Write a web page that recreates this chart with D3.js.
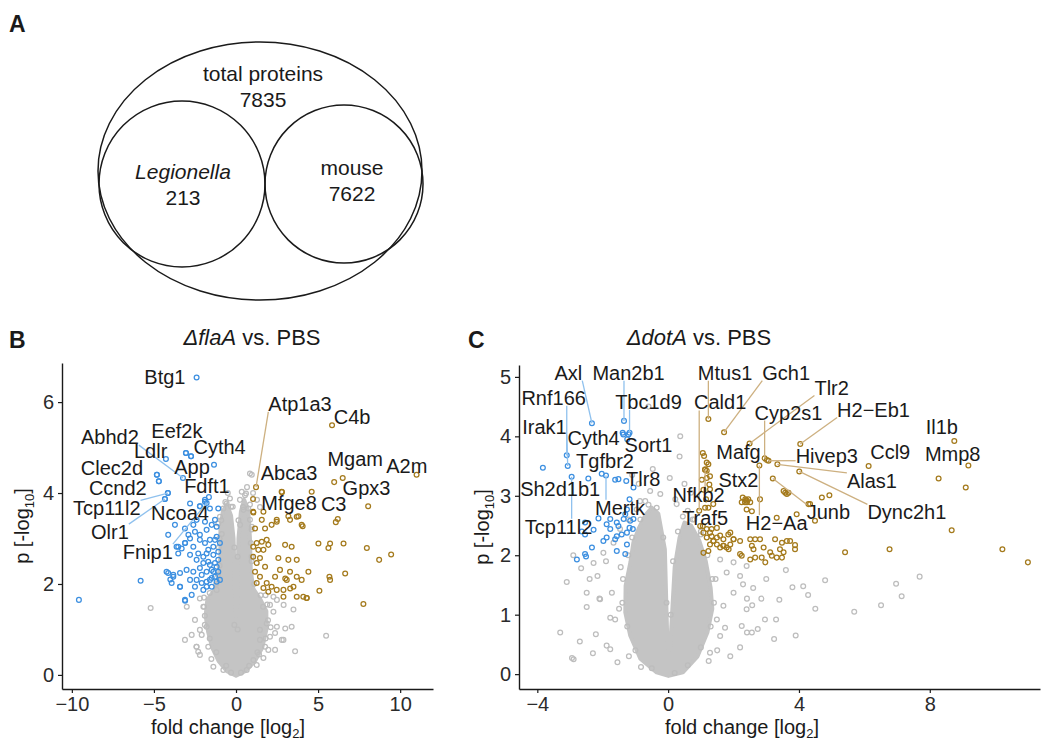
<!DOCTYPE html>
<html>
<head>
<meta charset="utf-8">
<script src="https://cdn.jsdelivr.net/npm/d3@7"></script>
<style>
  body { margin: 0; background: #fff; }
  svg text { font-family: "Liberation Sans", Arial, Helvetica, sans-serif; }
</style>
</head>
<body>
<svg width="1041" height="744"></svg>
<script>
// ---- panel A: protein counts
var vennNames = ["total proteins", "Legionella", "mouse"];
var vennCounts = [7835, 213, 7622];

// ---- panel B: dflaA vs PBS  (x = log2 fold change, y = -log10 p)
var flaTicksX = [-10, -5, 0, 5, 10];
var flaTicksY = [0, 2, 4, 6];

// outline of the dense grey cloud (non-significant proteins)
var flaCore = [[0,-0.02],[-0.55,0.08],[-1.05,0.3],[-1.45,0.6],[-1.7,0.95],[-1.85,1.3],[-1.75,1.65],[-1.35,1.85],
  [-1.05,2.1],[-0.95,2.6],[-0.95,3.2],[-0.8,3.6],[-0.55,3.75],[-0.3,3.5],[-0.15,3.0],[-0.02,1.3],[0.05,1.3],
  [0.15,3.0],[0.3,3.6],[0.5,3.85],[0.75,3.6],[0.85,3.0],[0.9,2.3],[1.05,1.9],[1.5,1.65],[1.85,1.4],[1.85,1.0],
  [1.6,0.6],[1.15,0.3],[0.55,0.08]];

var flaGrey = [[-5.2,1.47],[5.49,0.86],[3.6,0.52],[3.5,1.44],[2.9,1.54],[3.0,1.02],[2.49,1.06],[2.28,1.39],[1.87,1.13],
  [1.97,0.55],[1.26,0.22],[1.67,0.37],[2.38,0.55],[-3.11,0.77],[-2.7,0.88],[-2.2,0.44],[-2.41,0.62],[-2.09,0.88],
  [-1.79,1.06],[-2.3,0.51],[-1.38,0.18],[-0.77,0.11],[0.65,0.11],[1.46,0.77],[2.07,0.84],[1.46,0.99],[2.79,0.77],
  [-3.0,1.5],[-2.2,1.68],[-1.18,1.87],[2.49,1.65],[2.28,1.72],[2.07,1.54],[-2.5,1.21],[-1.99,1.5],[-2.2,0.99],
  [-1.69,0.62],[1.06,0.33],[1.77,0.62],[2.11,1.05],[0.85,4.43],[0.35,4.03],[0.61,3.99],[0.75,3.66],[0.45,3.63],
  [-0.77,3.66],[-0.57,3.77],[-0.98,3.48],[-1.08,3.33],[-0.87,3.1],[0.85,3.41],[0.96,3.26],[0.24,3.85],[-0.37,3.88],
  [3.39,1.06],[2.89,0.77],[2.38,0.92],[-2.4,0.62],[0.67,4.13],[1.04,4.0],[1.28,3.85],[1.46,3.69],[0.43,3.69],
  [0.96,4.4],[-1.9,1.3],[-1.95,1.7],[1.8,1.75],[1.65,1.5],[-1.5,0.35],[1.3,0.5],[-1.1,2.2],[-1.05,2.8],[0.95,2.5],
  [0.9,2.9],[-0.5,4.0],[-0.2,3.7],[0.15,3.4],
  [-0.6,0.2],[-1.2,0.5],[-1.6,0.8],[-1.9,1.1],[-1.95,1.5],[-1.6,1.8],[-1.2,2.0],[-1.0,2.4],[-1.0,3.0],[-0.9,3.4],
  [-0.65,3.8],[-0.3,3.7],[-0.1,2.8],[0.1,2.6],[0.25,3.3],[0.55,3.95],[0.85,3.75],[0.95,3.2],[0.95,2.6],[1.1,2.0],
  [1.5,1.75],[1.9,1.55],[1.95,1.2],[1.8,0.8],[1.4,0.45],[0.8,0.2],[0.3,0.05],[-0.3,0.05],[-0.1,1.1],[0.1,1.0]];

var flaDown = [[-9.57,1.65],[-5.81,2.07],[-4.23,2.27],[-3.82,2.2],[-3.1,2.9],[-3.52,2.67],[-3.41,1.94],[-3.1,1.63],
  [-4.0,2.1],[-4.82,4.4],[-4.15,4.0],[-4.33,3.87],[-4.7,4.26],[-2.8,3.77],[-1.89,3.81],[-1.59,3.66],[-1.08,3.66],
  [-1.28,3.41],[-1.89,3.37],[-2.4,3.41],[-2.6,3.3],[-3.11,3.22],[-2.9,3.08],[-2.5,3.15],[-2.2,3.08],[-1.79,3.19],
  [-1.48,3.3],[-1.18,3.26],[-4.13,3.08],[-3.72,3.3],[-3.52,2.82],[-3.11,2.9],[-2.8,3.0],[-2.6,2.82],[-2.2,2.97],
  [-1.89,2.9],[-1.59,2.97],[-1.38,2.82],[-1.79,2.67],[-2.3,2.67],[-2.8,2.64],[-2.4,2.53],[-1.99,2.6],[-1.69,2.49],
  [-1.38,2.64],[-1.08,2.53],[-1.18,2.38],[-1.48,2.31],[-1.79,2.27],[-2.2,2.35],[-2.6,2.27],[-3.01,2.31],[-3.41,2.24],
  [-3.82,2.16],[-4.13,2.24],[-3.92,2.02],[-3.41,1.94],[-2.8,2.09],[-2.4,2.09],[-2.09,2.02],[-1.79,2.05],[-1.59,2.09],
  [-1.28,2.16],[-0.98,2.09],[-2.7,1.76],[-3.11,1.65],[-1.99,1.87],[-1.79,1.94],[-1.48,1.94],[-1.18,2.05],[-3.62,2.82],
  [-3.31,2.78],[-1.28,2.46],[-1.59,2.42],[-1.38,2.27],[-1.08,2.27],[-1.08,2.71],[-0.98,2.9],[-1.18,3.04],[-1.28,2.97],
  [-1.69,2.75],[-1.99,2.46],[-2.09,2.2],[-2.5,1.94],[-1.48,2.13],[-2.74,4.81],[-3.05,4.88],[-1.65,3.91],[-2.2,3.71]];

var flaUp = [[1.05,3.59],[1.67,3.59],[1.57,3.41],[2.17,3.3],[1.16,3.22],[1.77,3.22],[1.87,2.97],[1.57,2.93],[1.26,2.9],
  [1.97,2.86],[1.05,2.82],[1.36,2.75],[1.67,2.75],[1.05,2.6],[1.46,2.57],[1.26,2.46],[1.77,2.38],[1.16,2.27],[1.46,2.16],
  [1.26,2.02],[1.87,2.02],[1.67,1.91],[1.97,1.83],[2.17,1.94],[2.38,2.16],[2.68,2.31],[2.48,1.87],[2.89,1.87],[3.09,2.09],
  [3.29,2.27],[3.7,2.16],[2.99,2.86],[3.39,2.82],[3.7,2.53],[4.1,1.72],[3.7,1.72],[4.3,1.69],[4.41,2.27],[4.61,4.03],
  [4.0,3.3],[3.7,3.48],[2.78,4.03],[2.48,3.41],[3.29,3.41],[3.19,2.53],[2.58,2.57],[2.89,1.72],[1.06,3.57],[2.48,3.37],
  [3.19,3.49],[3.8,3.49],[4.06,3.27],[5.02,2.89],[5.73,2.89],[6.55,2.89],[5.63,2.79],[7.97,2.79],[8.72,2.53],[9.45,2.65],
  [6.65,2.23],[5.69,2.16],[6.08,3.36],[5.98,4.24],[5.73,2.09],[5.08,1.85],[4.31,1.69],[7.76,1.56],[4.0,2.09],[3.5,1.94],
  [3.0,2.12],[3.3,1.9]];

var flaLabels = [
  {gene: "Btg1",    x: -2.4,  y: 6.54, lx: -4.33, ly: 6.55, dir: "down"},
  {gene: "Abhd2",   x: -3.23, y: 4.33, lx: -7.68, ly: 5.23, dir: "down"},
  {gene: "Eef2k",   x: -3.05, y: 4.88, lx: -3.6,  ly: 5.36, dir: "down"},
  {gene: "Cyth4",   x: -1.34, y: 4.62, lx: -1.0,  ly: 5.01, dir: "down"},
  {gene: "Ldlr",    x: -4.27, y: 4.75, lx: -5.2,  ly: 4.93, dir: "down"},
  {gene: "App",     x: -2.74, y: 4.81, lx: -2.68, ly: 4.57, dir: "down"},
  {gene: "Clec2d",  x: -4.82, y: 4.4,  lx: -7.56, ly: 4.55, dir: "down"},
  {gene: "Fdft1",   x: -1.89, y: 3.85, lx: -1.77, ly: 4.15, dir: "down"},
  {gene: "Ccnd2",   x: -4.7,  y: 4.26, lx: -7.2,  ly: 4.1,  dir: "down"},
  {gene: "Tcp11l2", x: -4.15, y: 4.0,  lx: -7.87, ly: 3.66, dir: "down"},
  {gene: "Ncoa4",   x: -2.2,  y: 3.71, lx: -3.41, ly: 3.56, dir: "down"},
  {gene: "Olr1",    x: -4.33, y: 3.87, lx: -7.68, ly: 3.14, dir: "down"},
  {gene: "Fnip1",   x: -1.79, y: 3.78, lx: -5.37, ly: 2.7,  dir: "down"},
  {gene: "Atp1a3",  x: 1.22,  y: 4.13, lx: 3.9,   ly: 5.96, dir: "up"},
  {gene: "C4b",     x: 5.85,  y: 5.49, lx: 7.07,  ly: 5.67, dir: "up"},
  {gene: "Mgam",    x: 6.5,   y: 4.33, lx: 7.26,  ly: 4.75, dir: "up"},
  {gene: "A2m",     x: 11.0,  y: 4.4,  lx: 10.4,  ly: 4.59, dir: "up"},
  {gene: "Abca3",   x: 2.8,   y: 4.02, lx: 3.23,  ly: 4.44, dir: "up"},
  {gene: "Gpx3",    x: 8.05,  y: 3.71, lx: 7.95,  ly: 4.1,  dir: "up"},
  {gene: "Mfge8",   x: 1.04,  y: 3.87, lx: 3.23,  ly: 3.78, dir: "up"},
  {gene: "C3",      x: 6.2,   y: 3.43, lx: 5.95,  ly: 3.76, dir: "up"}
];

// ---- panel C: ddotA vs PBS
var dotTicksX = [-4, 0, 4, 8];
var dotTicksY = [0, 1, 2, 3, 4, 5];

var dotCore = [[0.01,-0.03],[-0.35,0.03],[-0.85,0.26],[-1.16,0.65],[-1.31,1.04],[-1.3,1.49],[-1.15,1.89],[-1.06,2.22],
  [-0.9,2.45],[-0.7,2.67],[-0.5,2.8],[-0.3,2.7],[-0.1,2.1],[-0.02,0.45],[0.06,0.42],[0.2,1.8],[0.35,2.3],[0.5,2.55],
  [0.7,2.5],[0.95,2.25],[1.15,1.9],[1.3,1.45],[1.35,1.1],[1.2,0.7],[0.9,0.3],[0.45,0.03]];

var dotGrey = [[-2.94,0.27],[4.8,1.58],[5.69,1.05],[6.51,1.16],[6.97,1.52],[7.14,1.31],[7.69,1.64],[4.13,1.48],[4.28,1.33],
  [3.8,1.46],[3.24,0.59],[3.3,0.92],[-2.66,1.78],[-2.49,1.13],[-2.21,0.67],[-2.1,1.27],[-1.88,0.48],[-2.16,1.65],
  [-1.77,0.95],[-0.83,0.12],[1.24,0.22],[1.74,0.78],[2.41,0.7],[2.74,0.76],[2.96,0.92],[2.41,1.27],[2.85,1.27],
  [2.57,1.16],[2.29,1.51],[-0.47,3.45],[-0.6,4.5],[0.37,4.0],[0.35,3.66],[-0.55,3.08],[-0.24,3.03],[-0.7,2.91],
  [0.26,2.86],[0.22,2.94],[-0.86,2.91],[-0.96,2.77],[-1.21,2.6],[-1.47,2.44],[-1.67,2.21],[-1.98,2.04],[-2.28,1.87],
  [-2.49,1.37],[-2.08,1.26],[-1.72,1.37],[-1.62,0.92],[-1.77,0.42],[-2.89,0.25],[1.59,1.93],[1.79,1.71],[2.0,1.88],
  [2.2,1.65],[2.4,1.82],[2.0,1.37],[1.69,1.15],[1.49,0.92],[1.59,0.64],[1.28,0.36],[2.4,1.09],[2.56,0.7],[2.25,0.81],
  [0.6,2.75],[0.8,2.6],[1.0,2.4],[-1.45,1.8],[-1.5,1.1],[1.45,1.6],[1.5,0.4],[-1.2,0.3],[-0.9,3.2],[0.5,3.2],[0.7,3.05],
  [-1.1,3.35],[0.05,3.3],[3.6,1.75],[3.0,1.6],[4.5,1.1],[3.9,0.65],[-3.3,0.7],[-3.1,1.55],[-2.9,2.0],
  [-0.5,0.1],[-1.0,0.4],[-1.25,0.8],[-1.4,1.2],[-1.38,1.6],[-1.22,2.0],[-1.1,2.3],[-0.85,2.6],[-0.6,2.85],[-0.35,2.8],
  [-0.15,2.3],[-0.05,1.2],[0.08,1.0],[0.15,1.9],[0.3,2.4],[0.45,2.65],[0.75,2.6],[1.0,2.35],[1.2,2.0],[1.35,1.6],
  [1.4,1.2],[1.3,0.8],[1.0,0.45],[0.6,0.15],[0.2,0.02],[-2.7,0.55],[-2.4,1.6],[-1.9,1.9],[2.6,1.45],[3.4,1.25],
  [1.9,0.3],[2.2,0.45],[-2.3,0.35],[-1.55,0.2]];

var dotDown = [[-2.44,3.29],[-1.62,3.27],[-1.52,3.28],[-1.28,3.25],[-1.18,2.94],[-2.13,2.62],[-1.88,2.52],[-1.77,2.61],
  [-1.57,2.55],[-1.52,2.49],[-1.36,2.61],[-1.31,2.69],[-1.26,2.77],[-1.16,2.58],[-1.06,2.61],[-1.18,2.46],[-1.08,2.44],
  [-1.26,2.38],[-1.42,2.35],[-1.57,2.32],[-1.77,2.44],[-1.98,2.24],[-2.54,2.55],[-2.64,2.4],[-2.54,2.35],[-2.28,2.43],
  [-2.79,1.93],[-2.54,2.02],[-2.51,1.98],[-2.33,2.13],[-1.88,2.3],[-1.62,2.27],[-1.57,2.07],[-1.26,2.18],[-1.31,2.02],
  [-1.37,4.03],[-1.21,4.03]];

var dotUp = [[1.06,3.72],[1.1,3.67],[1.18,3.56],[1.23,3.53],[1.18,3.42],[1.28,3.33],[1.26,3.19],[1.28,3.11],[1.13,2.8],
  [1.38,2.86],[1.08,2.38],[1.28,2.38],[1.49,2.46],[1.59,2.33],[1.18,2.3],[1.38,2.24],[1.69,2.16],[1.85,2.1],[1.9,2.38],
  [2.0,2.27],[2.2,2.24],[2.36,2.94],[2.41,2.89],[2.25,2.89],[2.51,2.89],[2.81,2.94],[2.51,2.27],[2.66,2.27],[2.81,2.27],
  [2.56,2.16],[2.61,2.1],[2.92,2.13],[3.12,2.05],[3.17,1.99],[2.51,1.93],[2.66,1.96],[2.86,1.96],[2.97,1.88],[3.27,2.27],
  [3.48,2.21],[3.63,2.24],[3.73,2.24],[3.88,2.17],[3.42,2.1],[3.53,2.05],[3.88,2.1],[3.32,1.96],[3.48,1.96],[3.68,3.05],
  [3.58,3.05],[3.53,3.08],[3.63,3.03],[3.32,2.63],[3.93,2.69],[4.29,2.86],[4.49,2.58],[4.7,2.97],[4.93,3.01],[5.41,2.05],
  [6.77,2.1],[8.27,3.29],[9.1,3.14],[8.67,2.42],[10.22,2.1],[11.0,1.88],[4.34,2.86],[1.18,2.44],[1.33,2.32],[1.39,2.24],
  [1.49,2.18],[1.59,2.13],[1.69,2.16],[1.79,2.13],[1.9,2.18],[2.0,2.27],[1.84,2.35],[1.69,2.27],[1.49,2.3],[1.28,2.18],
  [2.2,2.02],[2.25,1.99],[1.08,2.04],[1.23,2.07],[1.33,2.44],[2.28,2.97],[2.35,2.89],[2.45,2.94],[2.4,2.77],[2.56,2.74],
  [1.13,3.44],[1.18,3.3],[1.03,3.27],[1.08,3.1],[1.16,2.94],[1.23,2.8],[0.98,2.49]];

var dotLabels = [
  {gene: "Axl",     x: -2.33, y: 4.22, lx: -3.05, ly: 5.07, dir: "down"},
  {gene: "Man2b1",  x: -1.35, y: 4.26, lx: -1.21, ly: 5.07, dir: "down"},
  {gene: "Rnf166",  x: -3.1,  y: 3.68, lx: -3.5,  ly: 4.65, dir: "down"},
  {gene: "Tbc1d9",  x: -1.18, y: 4.06, lx: -0.6,  ly: 4.58, dir: "down"},
  {gene: "Irak1",   x: -3.07, y: 3.5,  lx: -3.78, ly: 4.16, dir: "down"},
  {gene: "Cyth4",   x: -1.39, y: 4.06, lx: -2.28, ly: 3.98, dir: "down"},
  {gene: "Sort1",   x: -1.25, y: 3.95, lx: -0.6,  ly: 3.85, dir: "down"},
  {gene: "Tgfbr2",  x: -2.03, y: 3.37, lx: -1.93, ly: 3.59, dir: "down"},
  {gene: "Tlr8",    x: -1.06, y: 3.14, lx: -0.76, ly: 3.29, dir: "down"},
  {gene: "Mertk",   x: -1.9,  y: 3.34, lx: -1.47, ly: 2.8,  dir: "down"},
  {gene: "Sh2d1b1", x: -3.83, y: 3.47, lx: -3.3,  ly: 3.12, dir: "down"},
  {gene: "Tcp11l2", x: -2.95, y: 3.32, lx: -3.35, ly: 2.48, dir: "down"},
  {gene: "Mtus1",   x: 1.23,  y: 4.29, lx: 1.74,  ly: 5.07, dir: "up"},
  {gene: "Gch1",    x: 1.71,  y: 4.07, lx: 3.61,  ly: 5.07, dir: "up"},
  {gene: "Cald1",   x: 0.95,  y: 2.75, lx: 1.59,  ly: 4.57, dir: "up"},
  {gene: "Tlr2",    x: 2.49,  y: 3.88, lx: 5.0,   ly: 4.82, dir: "up"},
  {gene: "Cyp2s1",  x: 2.95,  y: 3.63, lx: 3.68,  ly: 4.4,  dir: "up"},
  {gene: "H2\u2212Eb1", x: 4.04, y: 3.87, lx: 6.28, ly: 4.45, dir: "up"},
  {gene: "Mafg",    x: 3.02,  y: 3.6,  lx: 2.15,  ly: 3.73, dir: "up"},
  {gene: "Hivep3",  x: 3.07,  y: 3.59, lx: 4.85,  ly: 3.67, dir: "up"},
  {gene: "Alas1",   x: 3.34,  y: 3.53, lx: 6.23,  ly: 3.25, dir: "up"},
  {gene: "Dync2h1", x: 4.01,  y: 3.41, lx: 7.3,   ly: 2.72, dir: "up"},
  {gene: "Junb",    x: 3.2,   y: 3.29, lx: 4.9,   ly: 2.72, dir: "up"},
  {gene: "H2\u2212Aa", x: 2.79, y: 3.51, lx: 3.32, ly: 2.54, dir: "up"},
  {gene: "Stx2",    x: 2.4,   y: 2.92, lx: 2.15,  ly: 3.27, dir: "up"},
  {gene: "Ccl9",    x: 6.13,  y: 3.5,  lx: 6.79,  ly: 3.73, dir: "up"},
  {gene: "Il1b",    x: 8.75,  y: 3.92, lx: 8.37,  ly: 4.15, dir: "up"},
  {gene: "Mmp8",    x: 9.18,  y: 3.51, lx: 8.7,   ly: 3.7,  dir: "up"},
  {gene: "Nfkb2",   x: 1.13,  y: 3.44, lx: 0.93,  ly: 3.01, dir: "up"},
  {gene: "Traf5",   x: 1.06,  y: 2.49, lx: 1.13,  ly: 2.63, dir: "up"}
];

var svg = d3.select("svg");
var INK = "#1a1a1a";
var colGrey = "#bdbdbd", colDown = "#3c8fe0", colUp = "#a47a1c";
var segDown = "#8fc1ee", segUp = "#cdb080";

// ---------------- panel A ----------------
svg.append("text").attr("x", 9).attr("y", 32).attr("font-size", 23).attr("font-weight", "bold")
  .attr("fill", INK).text("A");

var venn = svg.append("g").attr("fill", "none").attr("stroke", INK).attr("stroke-width", 1.5);
venn.append("ellipse").attr("cx", 260).attr("cy", 171).attr("rx", 162).attr("ry", 129);
venn.append("circle").attr("cx", 182).attr("cy", 184).attr("r", 83);
venn.append("circle").attr("cx", 344).attr("cy", 184).attr("r", 79);

var vennText = [
  {name: vennNames[0], count: vennCounts[0], x: 263, y: 81, italic: false},
  {name: vennNames[1], count: vennCounts[1], x: 183, y: 179, italic: true},
  {name: vennNames[2], count: vennCounts[2], x: 352, y: 175, italic: false}
];
vennText.forEach(function(d) {
  var t = svg.append("text").attr("text-anchor", "middle").attr("font-size", 21).attr("fill", INK);
  t.append("tspan").attr("x", d.x).attr("y", d.y).attr("font-style", d.italic ? "italic" : "normal").text(d.name);
  t.append("tspan").attr("x", d.x).attr("y", d.y + 26).text(d.count);
});

// ---------------- volcano panels ----------------
function volcano(o) {
  var x = d3.scaleLinear().domain(o.xDomain).range([o.left, o.right]);
  var y = d3.scaleLinear().domain(o.yDomain).range([o.bottom, o.top]);
  var g = svg.append("g");

  // panel letter + title
  g.append("text").attr("x", o.letterX).attr("y", 348).attr("font-size", 23).attr("font-weight", "bold")
    .attr("fill", INK).text(o.letter);
  var tt = g.append("text").attr("x", o.titleX).attr("y", 345).attr("text-anchor", "middle")
    .attr("font-size", 22).attr("fill", INK);
  tt.append("tspan").attr("font-style", "italic").text(o.strain);
  tt.append("tspan").text(" vs. PBS");

  // grey cloud
  var area = d3.line().x(function(d) { return x(d[0]); }).y(function(d) { return y(d[1]); })
    .curve(d3.curveLinearClosed);
  g.append("path").datum(o.core).attr("d", area)
    .attr("fill", "#c4c4c4").attr("stroke", "#c4c4c4").attr("stroke-width", 4).attr("stroke-linejoin", "round");

  function dots(data, col) {
    g.append("g").selectAll("circle").data(data).enter().append("circle")
      .attr("cx", function(d) { return x(d[0]); })
      .attr("cy", function(d) { return y(d[1]); })
      .attr("r", 2.4).attr("fill", "none").attr("stroke", col).attr("stroke-width", 1.25);
  }
  dots(o.grey, colGrey);
  dots(o.down, colDown);
  dots(o.up, colUp);
  dots(o.labels.filter(function(d) { return d.dir === "down"; }).map(function(d) { return [d.x, d.y]; }), colDown);
  dots(o.labels.filter(function(d) { return d.dir === "up"; }).map(function(d) { return [d.x, d.y]; }), colUp);

  // axes
  var ax = g.append("g").attr("transform", "translate(0," + o.bottom + ")")
    .call(d3.axisBottom(x).tickValues(o.ticksX).tickFormat(d3.format("d")).tickSize(4).tickSizeOuter(0).tickPadding(4));
  var ay = g.append("g").attr("transform", "translate(" + o.left + ",0)")
    .call(d3.axisLeft(y).tickValues(o.ticksY).tickFormat(d3.format("d")).tickSize(4).tickSizeOuter(0).tickPadding(4));
  [ax, ay].forEach(function(a) {
    a.select(".domain").attr("stroke", INK).attr("stroke-width", 1.4);
    a.selectAll(".tick line").attr("stroke", INK).attr("stroke-width", 1.2);
    a.selectAll(".tick text").attr("font-size", 20).attr("fill", "#2b2b2b")
      .style("font-family", '"Liberation Sans", Arial, sans-serif');
  });

  // axis titles
  var xt = g.append("text").attr("x", o.xLabelX).attr("y", 734).attr("text-anchor", "middle")
    .attr("font-size", 20).attr("fill", INK);
  xt.append("tspan").text("fold change [log");
  xt.append("tspan").attr("font-size", 13).attr("dy", 4).text("2");
  xt.append("tspan").attr("dy", -4).text("]");
  var yt = g.append("text").attr("transform", "translate(" + o.yLabelX + "," + ((o.top + o.bottom) / 2) + ") rotate(-90)")
    .attr("text-anchor", "middle").attr("font-size", 20).attr("fill", INK);
  yt.append("tspan").text("p [-log");
  yt.append("tspan").attr("font-size", 13).attr("dy", 5).text("10");
  yt.append("tspan").attr("dy", -5).text("]");

  // gene labels with repel-style segments
  var segs = g.append("g"), txts = g.append("g");
  o.labels.forEach(function(d) {
    var t = txts.append("text").attr("x", x(d.lx)).attr("y", y(d.ly)).attr("dy", "0.35em")
      .attr("text-anchor", "middle").attr("font-size", 20).attr("fill", INK).text(d.gene);
    var b = t.node().getBBox();
    var px = x(d.x), py = y(d.y);
    var cx = Math.max(b.x, Math.min(px, b.x + b.width));
    var cy = Math.max(b.y + 3, Math.min(py, b.y + b.height - 3));
    var dist = Math.hypot(px - cx, py - cy);
    if (dist > 14) {
      segs.append("line").attr("x1", px).attr("y1", py).attr("x2", cx).attr("y2", cy)
        .attr("stroke", d.dir === "down" ? segDown : segUp).attr("stroke-width", 1.3);
    }
  });
}

volcano({
  letter: "B", letterX: 9, strain: "\u0394flaA", titleX: 252,
  left: 62, right: 433, top: 363, bottom: 689,
  xDomain: [-10.6, 12.0], yDomain: [-0.31, 6.86],
  ticksX: flaTicksX, ticksY: flaTicksY,
  xLabelX: 228, yLabelX: 29,
  core: flaCore, grey: flaGrey, down: flaDown, up: flaUp, labels: flaLabels
});

volcano({
  letter: "C", letterX: 468, strain: "\u0394dotA", titleX: 699,
  left: 519, right: 1040, top: 365, bottom: 689,
  xDomain: [-4.56, 11.37], yDomain: [-0.25, 5.2],
  ticksX: dotTicksX, ticksY: dotTicksY,
  xLabelX: 742, yLabelX: 489,
  core: dotCore, grey: dotGrey, down: dotDown, up: dotUp, labels: dotLabels
});
</script>
</body>
</html>
